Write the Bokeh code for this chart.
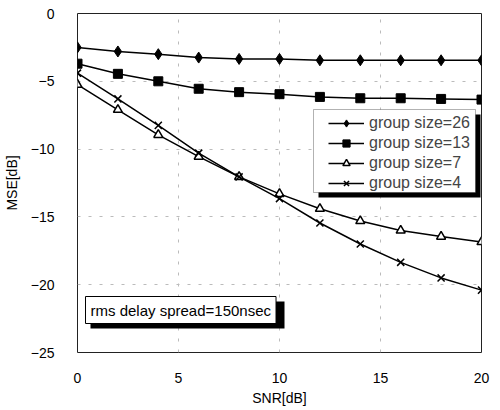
from bokeh.plotting import figure
from bokeh.models import Legend, LegendItem, Label, BoxAnnotation, FixedTicker, Range1d
from bokeh.embed import file_html
from bokeh.resources import INLINE

snr = [0, 2, 4, 6, 8, 10, 12, 14, 16, 18, 20]
g26 = [-2.5, -2.8, -3.0, -3.25, -3.35, -3.35, -3.45, -3.45, -3.45, -3.45, -3.45]
g13 = [-3.7, -4.45, -5.0, -5.55, -5.8, -5.95, -6.15, -6.25, -6.25, -6.3, -6.35]
g7 = [-5.25, -7.1, -8.95, -10.55, -12.05, -13.3, -14.4, -15.3, -16.0, -16.45, -16.85]
g4 = [-4.4, -6.3, -8.25, -10.3, -12.05, -13.65, -15.45, -17.0, -18.35, -19.5, -20.4]
xticks = [0, 5, 10, 15, 20]
yticks = [0, -5, -10, -15, -20, -25]
labels = ["group size=26", "group size=13", "group size=7", "group size=4"]
note = "rms delay spread=150nsec"

FONT = "Liberation Sans"

p = figure(width=500, height=410, output_backend="svg", toolbar_location=None,
           x_range=Range1d(0, 20), y_range=Range1d(-25, 0),
           min_border_left=77, min_border_right=19, min_border_top=13, min_border_bottom=58)
p.frame_width = 404
p.frame_height = 339

p.outline_line_color = "#222222"
p.outline_line_width = 1
p.background_fill_color = "white"

for ax in (p.xaxis[0], p.yaxis[0]):
    ax.axis_line_color = None
    ax.major_tick_line_color = None
    ax.minor_tick_line_color = None
    ax.major_label_text_font = FONT
    ax.major_label_text_font_size = "14px"
    ax.major_label_text_color = "black"
    ax.axis_label_text_font = FONT
    ax.axis_label_text_font_size = "14px"
    ax.axis_label_text_font_style = "normal"
    ax.axis_label_text_color = "black"
p.xaxis.ticker = FixedTicker(ticks=xticks)
p.yaxis.ticker = FixedTicker(ticks=yticks)
p.xaxis.axis_label = "SNR[dB]"
p.yaxis.axis_label = "MSE[dB]"
p.xaxis.major_label_standoff = 14
p.xaxis.axis_label_standoff = 4
p.yaxis.major_label_standoff = 17
p.yaxis.axis_label_standoff = 8

p.xgrid.grid_line_color = "#bbbbbb"
p.ygrid.grid_line_color = "#bbbbbb"
p.xgrid.grid_line_dash = "3 8"
p.ygrid.grid_line_dash = "3 8"
p.xgrid.grid_line_width = 1
p.ygrid.grid_line_width = 1

r26l = p.line(snr, g26, color="black", line_width=1.5)
r26m = p.scatter(snr, g26, marker="diamond", size=11, color="black")
r13l = p.line(snr, g13, color="black", line_width=1.5)
r13m = p.scatter(snr, g13, marker="square", size=9, color="black")
r7l = p.line(snr, g7, color="black", line_width=1.5)
r7m = p.scatter(snr, g7, marker="triangle", size=9, line_color="black", fill_color="white", line_width=1.5)
r4l = p.line(snr, g4, color="black", line_width=1.5)
r4m = p.scatter(snr, g4, marker="x", size=10, line_color="black", line_width=1.5)

def screen_box(left, right, bottom, top, **kw):
    return BoxAnnotation(left=left, right=right, top=top, bottom=bottom,
                         left_units="screen", right_units="screen",
                         top_units="screen", bottom_units="screen", **kw)

# legend frame + shadow (screen units: x from frame left, y from frame bottom)
p.add_layout(screen_box(241, 403, 155, 238, fill_color="black", fill_alpha=1,
                        line_color=None, level="annotation"))
p.add_layout(screen_box(236, 398, 160, 243, fill_color="white", fill_alpha=1,
                        line_color="black", line_width=1, level="annotation"))

legend = Legend(items=[
    LegendItem(label=labels[0], renderers=[r26l, r26m]),
    LegendItem(label=labels[1], renderers=[r13l, r13m]),
    LegendItem(label=labels[2], renderers=[r7l, r7m]),
    LegendItem(label=labels[3], renderers=[r4l, r4m]),
], location=(251, 160))
legend.label_text_font = FONT
legend.label_text_font_size = "16px"
legend.label_text_line_height = 1.0
legend.glyph_width = 36
legend.glyph_height = 18
legend.label_height = 18
legend.spacing = 2
legend.padding = 0
legend.margin = 0
legend.label_standoff = 5
legend.border_line_color = None
legend.background_fill_alpha = 0
p.add_layout(legend)

# note shadow
p.add_layout(screen_box(13, 207, 24, 51, fill_color="black", fill_alpha=1,
                        line_color=None, level="overlay"))
lab = Label(x=8, y=29, x_units="screen", y_units="screen", text=note,
            text_font=FONT, text_font_size="15px", text_color="black",
            border_line_color="black", border_line_width=1,
            background_fill_color="white", background_fill_alpha=1,
            padding=5, level="overlay")
p.add_layout(lab)

open("out.html", "w").write(file_html(p, INLINE))
